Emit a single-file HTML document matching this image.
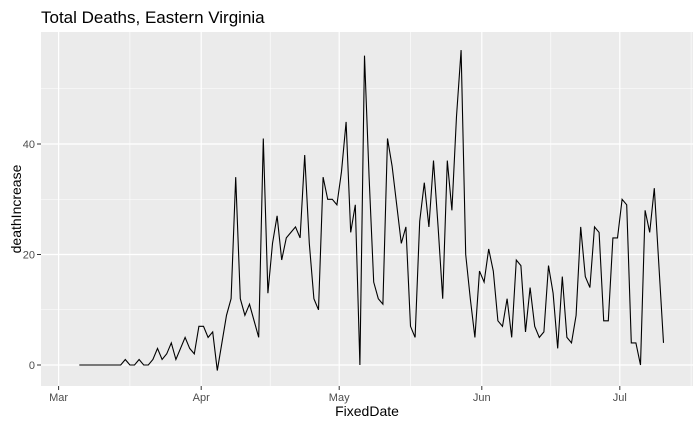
<!DOCTYPE html>
<html><head><meta charset="utf-8"><style>
body{margin:0;background:#fff;font-family:"Liberation Sans",sans-serif}
</style></head><body>
<svg id="c" width="700" height="432" xmlns="http://www.w3.org/2000/svg">
<text x="41" y="23" font-size="17" fill="#000">Total Deaths, Eastern Virginia</text>
<rect x="41" y="32" width="652" height="354" fill="#ebebeb"/>
<g id="grid"></g>
<g id="ticks"></g>
<path id="line" fill="none" stroke="#000" stroke-width="1.1"/>
<text x="367" y="416" font-size="14" text-anchor="middle">FixedDate</text>
<text transform="translate(21,209) rotate(-90)" font-size="14" text-anchor="middle">deathIncrease</text>
</svg>
<script>
const startDay = 4.5; // days after Mar 1
const values = [0,0,0,0,0,0,0,0,0,0,1,0,0,1,0,0,1,3,1,2,4,1,3,5,3,2,7,
7,5,6,-1,4,9,12,34,12,9,11,8,5,41,13,22,27,19,23,24,25,23,38,22,12,10,34,30,30,29,
35,44,24,29,0,56,34,15,12,11,41,36,29,22,25,7,5,26,33,25,37,25,12,37,28,45,57,20,12,5,17,
15,21,17,8,7,12,5,19,18,6,14,7,5,6,18,13,3,16,5,4,9,25,16,14,25,24,8,8,23,23,
30,29,4,4,0,28,24,32,18,4];
const yTicks = [0,20,40];
const yMinor = [10,30,50];
const xTickLabels = ["Mar","Apr","May","Jun","Jul"];
const xTickDays = [0,31,61,92,122];
const xMinorDays = [15.5,46,76.5,107,137.5];
const X = d => 58.6 + d*4.6;
const Y = v => 365 - v*5.525;
const svg = document.getElementById('c'), g = document.getElementById('grid'), t = document.getElementById('ticks');
const NS = "http://www.w3.org/2000/svg";
function ln(p,x1,y1,x2,y2,w,c){const l=document.createElementNS(NS,'line');l.setAttribute('x1',x1);l.setAttribute('y1',y1);l.setAttribute('x2',x2);l.setAttribute('y2',y2);l.setAttribute('stroke',c);l.setAttribute('stroke-width',w);p.appendChild(l);return l;}
function tx(p,x,y,s,a){const e=document.createElementNS(NS,'text');e.setAttribute('x',x);e.setAttribute('y',y);e.setAttribute('font-size','11');e.setAttribute('fill','#4d4d4d');e.setAttribute('text-anchor',a);e.textContent=s;p.appendChild(e);return e;}
yMinor.forEach(v=>{const l=ln(g,41,Y(v),693,Y(v),0.6,'#fff');

});
xMinorDays.forEach(d=>{if(X(d)<693){const l=ln(g,X(d),32,X(d),386,0.6,'#fff');

}});
yTicks.forEach(v=>{const l=ln(g,41,Y(v),693,Y(v),1.2,'#fff');


ln(t,37,Y(v),41,Y(v),1,'#333');
const e=tx(t,35,Y(v)+4,String(v),'end');

});
xTickDays.forEach((d,i)=>{const l=ln(g,X(d),32,X(d),386,1.2,'#fff');


ln(t,X(d),386,X(d),390,1,'#333');
const e=tx(t,X(d),401,xTickLabels[i],'middle');

});
document.getElementById('line').setAttribute('d', values.map((v,i)=>(i?'L':'M')+X(startDay+i).toFixed(1)+','+Y(v).toFixed(1)).join(''));
</script>
</body></html>
